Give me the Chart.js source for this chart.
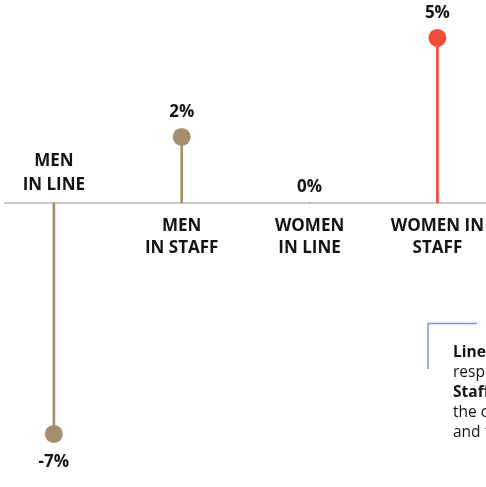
<!DOCTYPE html>
<html>
<head>
<meta charset="utf-8">
<script src="https://cdn.jsdelivr.net/npm/chart.js@4"></script>
<style>
  html, body { margin: 0; padding: 0; background: #fff; overflow: hidden; }
  #wrap { position: relative; width: 486px; height: 487px; }
</style>
</head>
<body>
<div id="wrap"><canvas id="lollipop"></canvas></div>
<script>
const categories = [['MEN', 'IN LINE'], ['MEN', 'IN STAFF'], ['WOMEN', 'IN LINE'], ['WOMEN IN', 'STAFF']];
const changes = [-7, 2, 0, 5];
const valueLabels = ['-7%', '2%', '0%', '5%'];
const dotColors = ['#a68d6b', '#a68d6b', '#a68d6b', '#f04c38'];

const noteLines = [
    [['Line', true], [' roles carry direct', false]],
    [['responsibility for P&L', false]],
    [['Staff', true], [' roles support', false]],
    [['the core business, such as HR', false]],
    [['and finance', false]]
];

const FONT = '"Open Sans", Lato, sans-serif';

// axis line, category names, value labels and the side note
const labelsPlugin = {
    id: 'lollipopLabels',
    beforeDatasetsDraw(chart) {
        const c = chart.ctx;
        const area = chart.chartArea;
        const y0 = chart.scales.y.getPixelForValue(0);
        c.save();
        c.strokeStyle = '#c9c9c9';
        c.lineWidth = 2;
        c.beginPath();
        c.moveTo(area.left, y0);
        c.lineTo(area.right, y0);
        c.stroke();
        c.restore();
    },
    afterDraw(chart) {
        const c = chart.ctx;
        const y0 = chart.scales.y.getPixelForValue(0);
        const pts = chart.getDatasetMeta(1).data;

        c.save();
        c.textAlign = 'center';
        c.textBaseline = 'middle';
        c.fillStyle = '#141414';
        c.font = 'bold 17px ' + FONT;

        pts.forEach((pt, i) => {
            const v = changes[i];
            // value label
            if (v > 0) c.fillText(valueLabels[i], pt.x, pt.y - 25);
            else if (v < 0) c.fillText(valueLabels[i], pt.x, pt.y + 28);
            else c.fillText(valueLabels[i], pt.x, y0 - 16);

            // category name, on the opposite side of the stem
            const lines = categories[i];
            if (v < 0) {
                c.fillText(lines[0], pt.x, y0 - 42);
                c.fillText(lines[1], pt.x, y0 - 18);
            } else {
                c.fillText(lines[0], pt.x, y0 + 23);
                c.fillText(lines[1], pt.x, y0 + 45);
            }
        });

        // side note with bracket
        c.strokeStyle = '#7f97d6';
        c.lineWidth = 1.5;
        c.beginPath();
        c.moveTo(428, 369);
        c.lineTo(428, 323.5);
        c.lineTo(477, 323.5);
        c.stroke();

        c.textAlign = 'left';
        noteLines.forEach((parts, i) => {
            let x = 453;
            const y = 353 + i * 19.8;
            parts.forEach(([txt, bold]) => {
                c.font = (bold ? 'bold ' : '') + '15.5px ' + FONT;
                c.fillText(txt, x, y);
                x += c.measureText(txt).width;
            });
        });
        c.restore();
    }
};

const points = changes.map((v, i) => ({ x: i, y: v }));

new Chart(document.getElementById('lollipop'), {
    type: 'bar',
    data: {
        datasets: [
            {
                // stems
                type: 'bar',
                data: points,
                backgroundColor: dotColors,
                barThickness: 2,
                borderWidth: 0
            },
            {
                // heads
                type: 'scatter',
                data: points,
                pointRadius: changes.map(v => v === 0 ? 0 : 9),
                pointBackgroundColor: dotColors,
                pointBorderWidth: 0
            }
        ]
    },
    options: {
        responsive: true,
        maintainAspectRatio: false,
        animation: false,
        layout: { autoPadding: false, padding: { left: 4, right: 0, top: 0, bottom: 0 } },
        scales: {
            x: { type: 'linear', offset: false, min: -0.39, max: 3.38, display: false },
            y: { min: -8.61, max: 6.15, display: false }
        },
        plugins: {
            legend: { display: false },
            tooltip: { enabled: false }
        }
    },
    plugins: [labelsPlugin]
});
</script>
</body>
</html>
